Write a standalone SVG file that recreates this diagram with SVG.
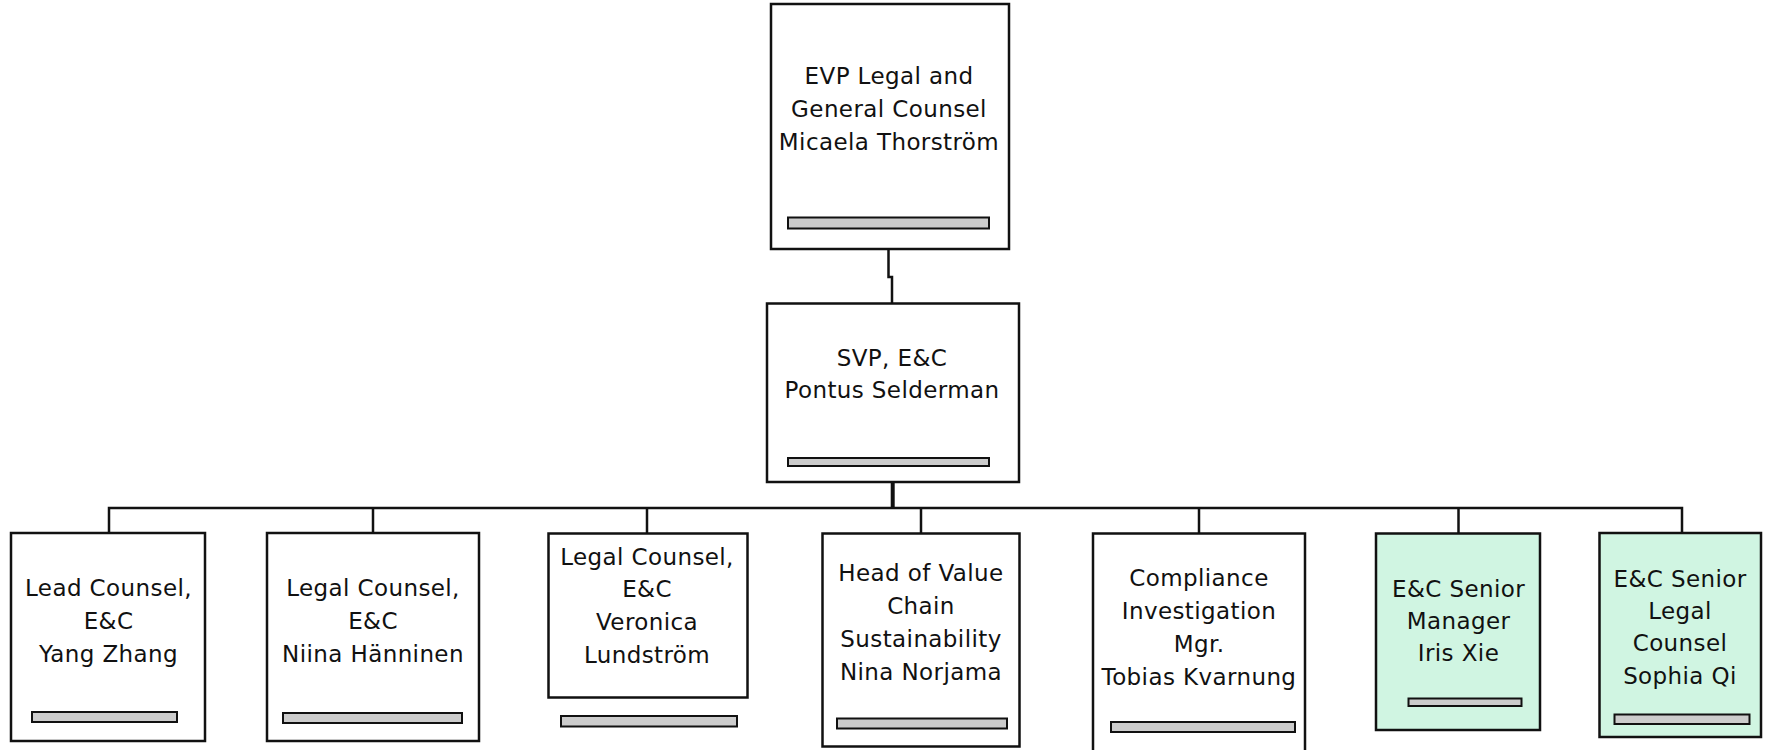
<svg xmlns="http://www.w3.org/2000/svg" width="1766" height="750" viewBox="0 0 1766 750">
<style>
.box{fill:#ffffff;stroke:#111111;stroke-width:2.5}
.green{fill:#d0f5e2}
.bar{fill:#cccccc;stroke:#111111;stroke-width:2}
.lbl{font-family:"DejaVu Sans",sans-serif;font-size:23px;fill:#111111;text-anchor:middle;letter-spacing:0.4px}
.conn{fill:none;stroke:#111111;stroke-width:2.5}
</style>
<rect width="1766" height="750" fill="#ffffff"/>
<g id="connectors">
<path class="conn" d="M888.5 250 V277 H892 V303"/>
<path class="conn" d="M892.7 482 V508" style="stroke-width:4"/>
<path class="conn" d="M109 533 V508 H1682 V533"/>
<path class="conn" d="M373 508 V533"/>
<path class="conn" d="M647 508 V533"/>
<path class="conn" d="M921 508 V533"/>
<path class="conn" d="M1199 508 V533"/>
<path class="conn" d="M1458.5 508 V533"/>
</g>
<g id="n-evp">
<rect class="box" x="771" y="4" width="238" height="245"/>
<text class="lbl" x="889" y="84">EVP Legal and</text>
<text class="lbl" x="889" y="117">General Counsel</text>
<text class="lbl" x="889" y="150">Micaela Thorström</text>
<rect class="bar" x="788" y="217.5" width="201" height="11"/>
</g>
<g id="n-svp">
<rect class="box" x="767" y="303.5" width="252" height="178.5"/>
<text class="lbl" x="892" y="366">SVP, E&amp;C</text>
<text class="lbl" x="892" y="398">Pontus Selderman</text>
<rect class="bar" x="788" y="458" width="201" height="8"/>
</g>
<g id="n-yang">
<rect class="box" x="11" y="533" width="194" height="208"/>
<text class="lbl" x="108.5" y="596">Lead Counsel,</text>
<text class="lbl" x="108.5" y="629">E&amp;C</text>
<text class="lbl" x="108.5" y="662">Yang Zhang</text>
<rect class="bar" x="32" y="712" width="145" height="10"/>
</g>
<g id="n-niina">
<rect class="box" x="267" y="533" width="212" height="208"/>
<text class="lbl" x="373" y="596">Legal Counsel,</text>
<text class="lbl" x="373" y="629">E&amp;C</text>
<text class="lbl" x="373" y="662">Niina Hänninen</text>
<rect class="bar" x="283" y="713" width="179" height="10"/>
</g>
<g id="n-veronica">
<rect class="box" x="548.5" y="533.5" width="199" height="164"/>
<text class="lbl" x="647" y="565">Legal Counsel,</text>
<text class="lbl" x="647" y="597">E&amp;C</text>
<text class="lbl" x="647" y="630">Veronica</text>
<text class="lbl" x="647" y="663">Lundström</text>
<rect class="bar" x="561" y="716" width="176" height="10.5"/>
</g>
<g id="n-nina">
<rect class="box" x="822.5" y="533.5" width="197" height="213"/>
<text class="lbl" x="921" y="581">Head of Value</text>
<text class="lbl" x="921" y="614">Chain</text>
<text class="lbl" x="921" y="647">Sustainability</text>
<text class="lbl" x="921" y="680">Nina Norjama</text>
<rect class="bar" x="837" y="718.5" width="170" height="10"/>
</g>
<g id="n-tobias">
<rect class="box" x="1093" y="533.5" width="212" height="230"/>
<text class="lbl" x="1199" y="586">Compliance</text>
<text class="lbl" x="1199" y="619">Investigation</text>
<text class="lbl" x="1199" y="652">Mgr.</text>
<text class="lbl" x="1199" y="685">Tobias Kvarnung</text>
<rect class="bar" x="1111" y="722" width="184" height="10"/>
</g>
<g id="n-iris">
<rect class="box green" x="1376" y="533.5" width="164" height="196.5"/>
<text class="lbl" x="1458.5" y="597">E&amp;C Senior</text>
<text class="lbl" x="1458.5" y="629">Manager</text>
<text class="lbl" x="1458.5" y="661">Iris Xie</text>
<rect class="bar" x="1408.5" y="698.5" width="113" height="7.5"/>
</g>
<g id="n-sophia">
<rect class="box green" x="1599.5" y="533" width="161.5" height="204"/>
<text class="lbl" x="1680" y="587">E&amp;C Senior</text>
<text class="lbl" x="1680" y="619">Legal</text>
<text class="lbl" x="1680" y="651">Counsel</text>
<text class="lbl" x="1680" y="684">Sophia Qi</text>
<rect class="bar" x="1614.5" y="714.5" width="135" height="9.5"/>
</g>
</svg>
